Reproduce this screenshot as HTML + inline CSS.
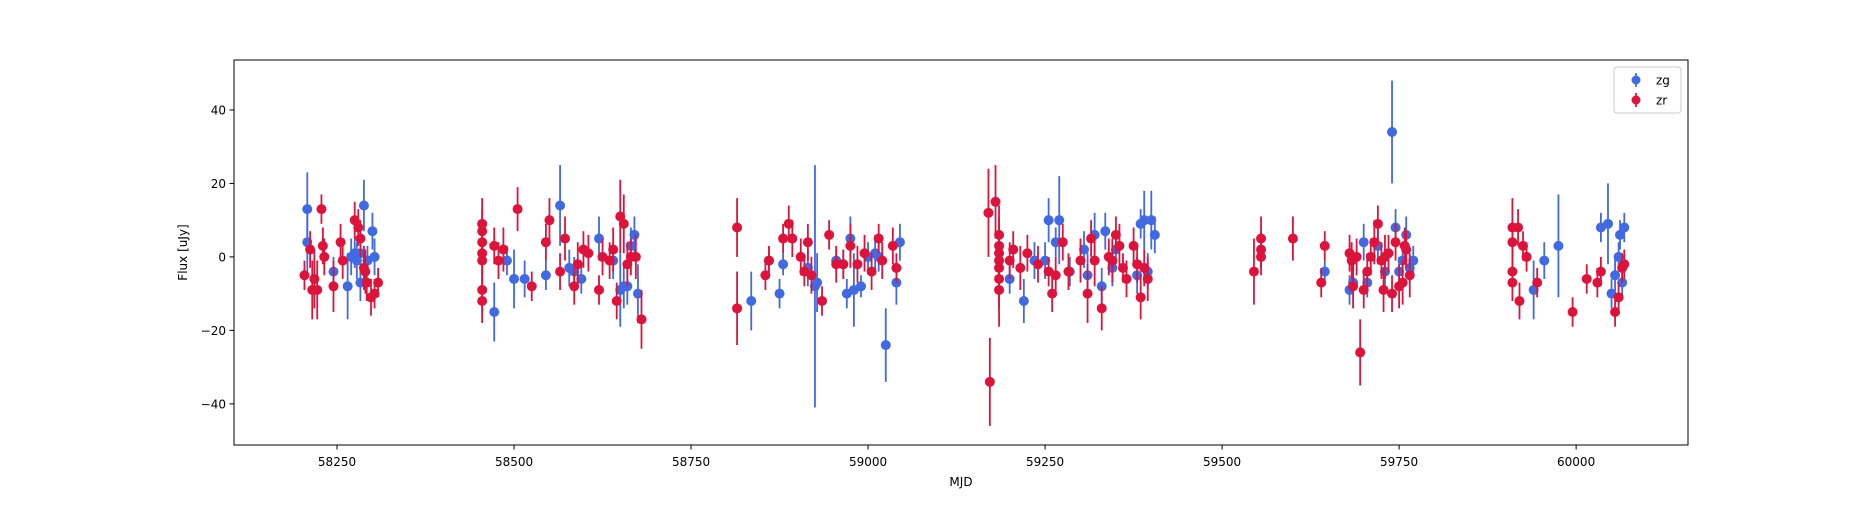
<!DOCTYPE html>
<html><head><meta charset="utf-8"><style>
body{margin:0;background:#fff;}
svg text{font-family:"DejaVu Sans","Liberation Sans",sans-serif;font-size:12px;fill:#000;}
</style></head><body>
<svg id="chart" width="1875" height="500" xmlns="http://www.w3.org/2000/svg">
<rect x="0" y="0" width="1875" height="500" fill="#fff"/>
<g id="marks"></g>
<g id="axes"></g>
</svg>
<script>
const zgMjd=[58208,58208,58245,58265,58270,58275,58283,58288,58293,58300,58303,58283,58278,
58472,58490,58500,58515,58545,58565,58578,58585,58595,58620,58640,58650,58655,58660,58665,58670,58675,
58835,58860,58875,58880,58915,58925,58928,58955,58965,58970,58975,58980,58990,59000,59010,59015,59025,59040,59045,
59200,59220,59235,59250,59255,59265,59270,59285,59305,59310,59320,59330,59335,59345,59350,59380,59390,59395,59400,59405,59385,
59645,59680,59685,59700,59705,59720,59740,59745,59750,59760,59765,59755,59730,59770,
59940,59955,59975,60035,60045,60050,60055,60060,60062,60068,60065];
const zgFlux=[13,4,-4,-8,0,1,-7,14,-1,7,0,1,-1,
-15,-1,-6,-6,-5,14,-3,-4,-6,5,-1,-9,-8,-8,3,6,-10,
-12,-1,-10,-2,-3,-8,-7,-1,-2,-10,5,-9,-8,0,1,0,-24,-7,4,
-6,-12,-1,-1,10,4,10,-4,2,-5,6,-8,7,-3,2,-5,10,-4,10,6,9,
-4,-9,-7,4,-7,3,34,8,-4,6,-3,-1,-4,-1,
-9,-1,3,8,9,-10,-5,0,6,8,-7];
const zgErr=[10,9,4,9,5,4,5,7,4,5,5,3,5,
8,4,8,5,4,11,5,4,4,6,5,10,6,5,5,5,8,
8,3,4,3,5,33,8,3,4,4,6,10,3,4,5,4,10,6,5,
4,6,5,5,6,4,12,4,5,6,6,5,5,5,4,5,8,5,8,5,4,
3,4,3,5,4,5,14,5,4,5,4,4,5,4,
8,5,14,4,11,4,5,4,4,4,4];
const zrMjd=[58204,58212,58215,58218,58222,58228,58230,58232,58245,58258,58255,58275,58280,58283,58288,58290,58292,58298,58308,58303,
58455,58455,58455,58455,58455,58455,58455,58472,58478,58485,58505,58525,58545,58550,58565,58572,58585,58590,58598,58605,58620,58625,58635,58640,58645,58650,58655,58660,58665,58672,58680,
58815,58815,58855,58860,58880,58888,58893,58905,58910,58915,58920,58935,58945,58955,58965,58975,58985,58995,59005,59015,59020,59035,59040,
59170,59172,59180,59185,59185,59185,59185,59185,59185,59185,59200,59205,59215,59225,59240,59255,59260,59265,59275,59283,59300,59310,59315,59320,59330,59340,59345,59350,59355,59365,59375,59380,59385,59390,59395,59360,
59545,59555,59555,59555,59600,59640,59645,59680,59683,59685,59690,59695,59700,59705,59710,59715,59720,59725,59728,59735,59740,59745,59750,59755,59758,59760,59765,59730,
59910,59910,59910,59910,59918,59920,59925,59930,59945,59995,60015,60030,60035,60055,60060,60065,60068];
const zrFlux=[-5,2,-9,-6,-9,13,3,0,-8,-1,4,10,8,5,-3,-4,-7,-11,-7,-10,
9,7,4,1,-1,-9,-12,3,-1,2,13,-8,4,10,-4,5,-8,-2,2,1,-9,0,-1,2,-12,11,9,-2,0,0,-17,
8,-14,-5,-1,5,9,5,0,-4,4,-5,-12,6,-2,-2,3,-2,1,-4,5,-1,3,-3,
12,-34,15,-9,6,3,1,-1,-3,-6,-1,2,-3,1,-2,-4,-10,-5,4,-4,-1,-10,5,-1,-14,0,-1,6,3,-6,3,-2,-11,-3,-6,-3,
-4,5,2,0,5,-7,3,1,-1,-8,0,-26,-9,-4,0,4,9,-1,-9,1,-10,4,-8,-7,3,2,-5,0,
8,4,-4,-7,8,-12,3,0,-7,-15,-6,-7,-4,-15,-11,-3,-2];
const zrErr=[4,5,8,8,8,4,5,5,7,5,5,5,5,5,6,6,5,5,4,4,
7,6,6,6,6,6,6,5,5,6,6,4,5,6,5,6,5,6,5,5,4,5,5,6,5,10,8,6,5,6,8,
8,10,4,4,4,5,5,5,4,5,5,4,4,5,4,6,5,5,5,4,5,5,4,
12,12,10,10,8,8,8,8,8,8,5,5,6,5,5,4,5,5,5,5,6,8,5,7,6,5,6,5,6,5,5,5,6,5,6,4,
9,6,5,5,6,4,4,5,5,6,5,9,5,5,5,6,5,5,6,5,5,5,6,6,5,5,6,6,
8,6,5,5,5,5,4,4,4,4,4,4,4,4,4,4,4];
const xTicks=[58250,58500,58750,59000,59250,59500,59750,60000];
const yTicks=[-40,-20,0,20,40];

const L=234,R=1688,T=60,B=445;
const xMin=58104.5,xMax=60158,yMin=-51.2,yMax=53.6;
const sx=v=>L+(v-xMin)/(xMax-xMin)*(R-L);
const sy=v=>B-(v-yMin)/(yMax-yMin)*(B-T);
const NS="http://www.w3.org/2000/svg";
function mk(tag,attrs,parent){const e=document.createElementNS(NS,tag);for(const k in attrs)e.setAttribute(k,attrs[k]);parent.appendChild(e);return e;}
const marks=document.getElementById('marks'),axes=document.getElementById('axes');
function series(m,f,er,color,name){
  const g=mk('g',{},marks);
  
  
  for(let i=0;i<m.length;i++){
    const x=sx(m[i]);
    const ln=mk('line',{x1:x,x2:x,y1:sy(f[i]-er[i]),y2:sy(f[i]+er[i]),stroke:color,'stroke-width':1.8},g);
    
    
    const c=mk('circle',{cx:x,cy:sy(f[i]),r:5,fill:color},g);
    
    
  }
}
series(zgMjd,zgFlux,zgErr,'#4169e1','zg');
series(zrMjd,zrFlux,zrErr,'#dc143c','zr');
// frame
const fr=mk('rect',{x:L,y:T,width:R-L,height:B-T,fill:'none',stroke:'#000','stroke-width':1},axes);


xTicks.forEach(v=>{
  const x=sx(v);
  mk('line',{x1:x,x2:x,y1:B,y2:B+4.5,stroke:'#000','stroke-width':1},axes);
  const t=mk('text',{x:x,y:B+21,'text-anchor':'middle'},axes);
  t.textContent=v;
  
  
});
yTicks.forEach(v=>{
  const y=sy(v);
  mk('line',{x1:L-4.5,x2:L,y1:y,y2:y,stroke:'#000','stroke-width':1},axes);
  const t=mk('text',{x:L-8,y:y+4.5,'text-anchor':'end'},axes);
  t.textContent=v<0?'\u2212'+Math.abs(v):String(v);
  
  
});
const xt=mk('text',{x:(L+R)/2,y:486,'text-anchor':'middle'},axes);
xt.textContent='MJD';


const yt=mk('text',{x:0,y:0,'text-anchor':'middle',transform:'translate(187,'+((T+B)/2)+') rotate(-90)'},axes);
yt.textContent='Flux [uJy]';


// legend
const lg=mk('g',{},axes);


mk('rect',{x:1614,y:67,width:67,height:46,rx:3,fill:'#fff',stroke:'#ccc','stroke-width':1},lg);
[['zg','#4169e1',80],['zr','#dc143c',100]].forEach(([n,c,y])=>{
  const e=mk('g',{},lg);
  
  
  mk('line',{x1:1636,x2:1636,y1:y-7,y2:y+7,stroke:c,'stroke-width':1.8},e);
  mk('circle',{cx:1636,cy:y,r:4.5,fill:c},e);
  const t=mk('text',{x:1656,y:y+4.5},e);
  t.textContent=n;
});
</script>
</body></html>
